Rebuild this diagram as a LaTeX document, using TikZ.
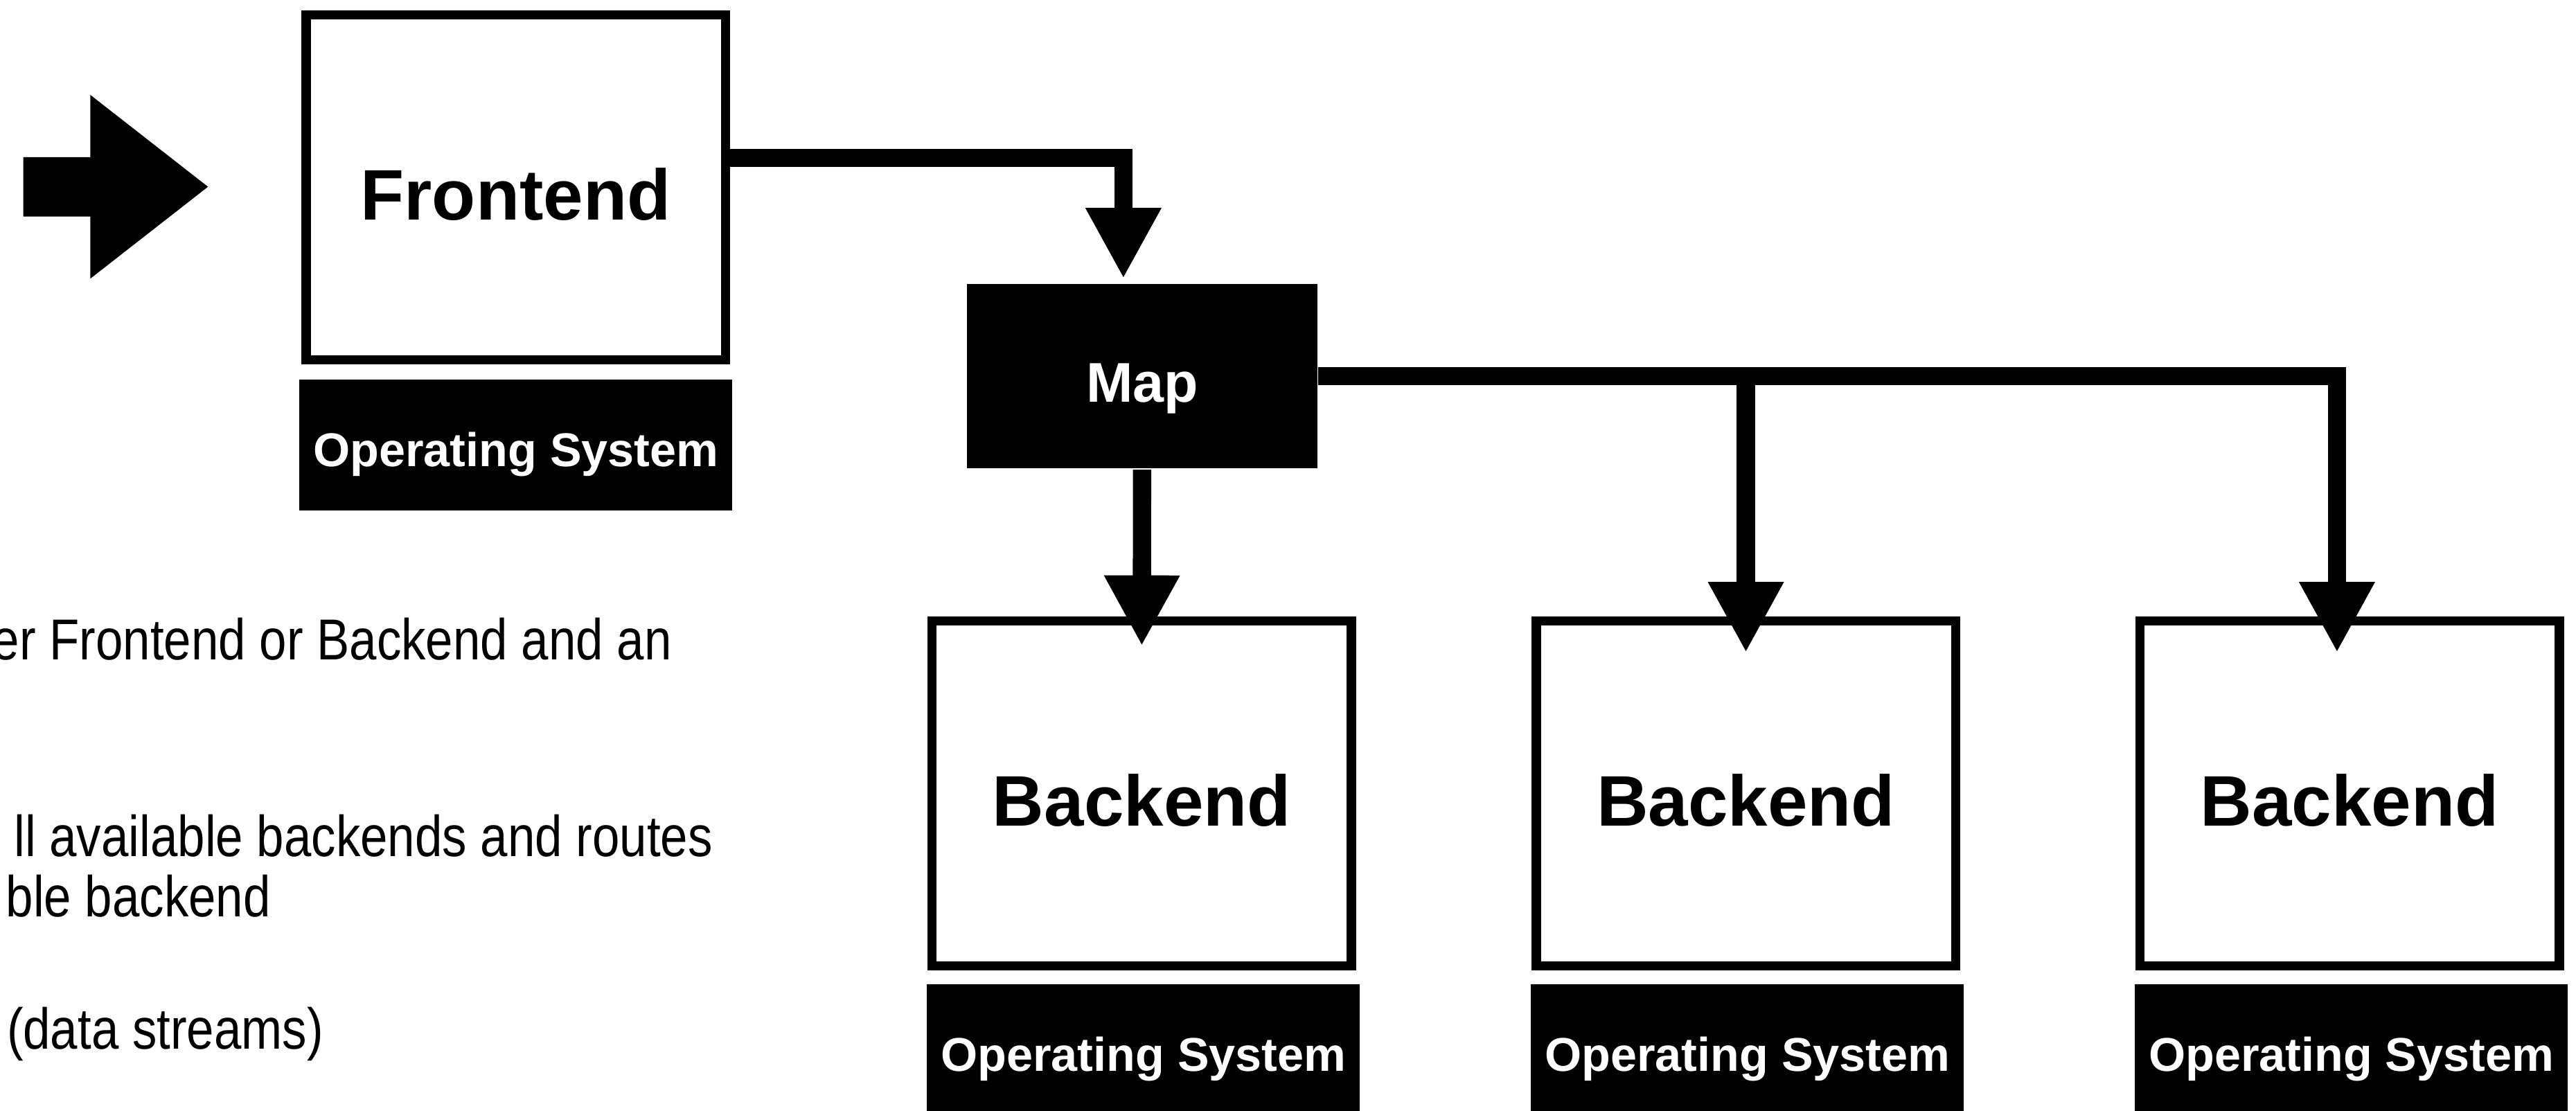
\documentclass[tikz,border=0pt]{standalone}
\usepackage{fontspec}
\setmainfont{Liberation Sans}
\newfontfamily\notefont[FakeStretch=0.85]{Liberation Sans}
\usetikzlibrary{arrows.meta}

\begin{document}
\begin{tikzpicture}[
  >={Triangle[length=4.3mm, width=4.3mm]},
  box/.style={draw, line width=1.6pt, inner sep=0pt, minimum width=2.552cm, minimum height=2.1cm,
    text height=3.95mm, text depth=0pt, font=\fontsize{12.4}{14}\selectfont\bfseries},
  osbox/.style={fill=black, text=white, inner sep=0pt, minimum width=2.635cm, minimum height=0.797cm,
    text height=2.6mm, text depth=0pt, font=\fontsize{8.2}{10}\selectfont\bfseries},
  mapbox/.style={fill=black, text=white, inner sep=0pt, minimum width=2.132cm, minimum height=1.123cm,
    text height=3.1mm, text depth=0pt, font=\fontsize{9.7}{11}\selectfont\bfseries},
  flow/.style={->, line width=3.16pt},
  note/.style={anchor=base east, inner sep=0pt, font=\notefont\fontsize{10}{12}\selectfont}
]
  \useasboundingbox (0,0) rectangle (15.68,6.76);

  % entry arrow
  \fill (0.142,5.803) -- (0.55,5.803) -- (0.55,6.182) -- (1.266,5.623)
    -- (0.55,5.064) -- (0.55,5.442) -- (0.142,5.442) -- cycle;

  \node[box]   (front)   at (3.139,5.619) {Frontend};
  \node[osbox] (frontos) at (3.14,4.052)  {Operating System};

  \node[mapbox] (map) at (6.952,4.4695) {Map};

  \node[box] (b1) at (6.95,1.9295)   {Backend};
  \node[box] (b2) at (10.627,1.9295) {Backend};
  \node[box] (b3) at (14.302,1.9295) {Backend};

  \node[osbox] (os1) at (6.96,0.3715)   {Operating System};
  \node[osbox] (os2) at (10.637,0.3715) {Operating System};
  \node[osbox] (os3) at (14.312,0.3715) {Operating System};

  % notes, cut off by the left edge
  \node[note] (n1) at (4.095,2.745) {er Frontend or Backend and an};
  \node[note] (n2) at (4.345,1.546) {ll available backends and routes};
  \node[note] (n3) at (1.655,1.181) {ble backend};
  \node[note] (n4) at (1.975,0.373) {(data streams)};

  % frontend -> map
  \draw[flow] ([yshift=1.8mm]front.east) -| ([shift={(-1.14mm,0.26mm)}]map.north);

  % map -> backends
  \draw[flow] (map.south) -- ([yshift=-1.8mm]b1.north);
  \draw[flow] (map.east) -| ([shift={(-0.77mm,-2.2mm)}]b3.north);
  \draw[flow] (map.east -| b2.north) -- ([yshift=-2.2mm]b2.north);
\end{tikzpicture}
\end{document}
